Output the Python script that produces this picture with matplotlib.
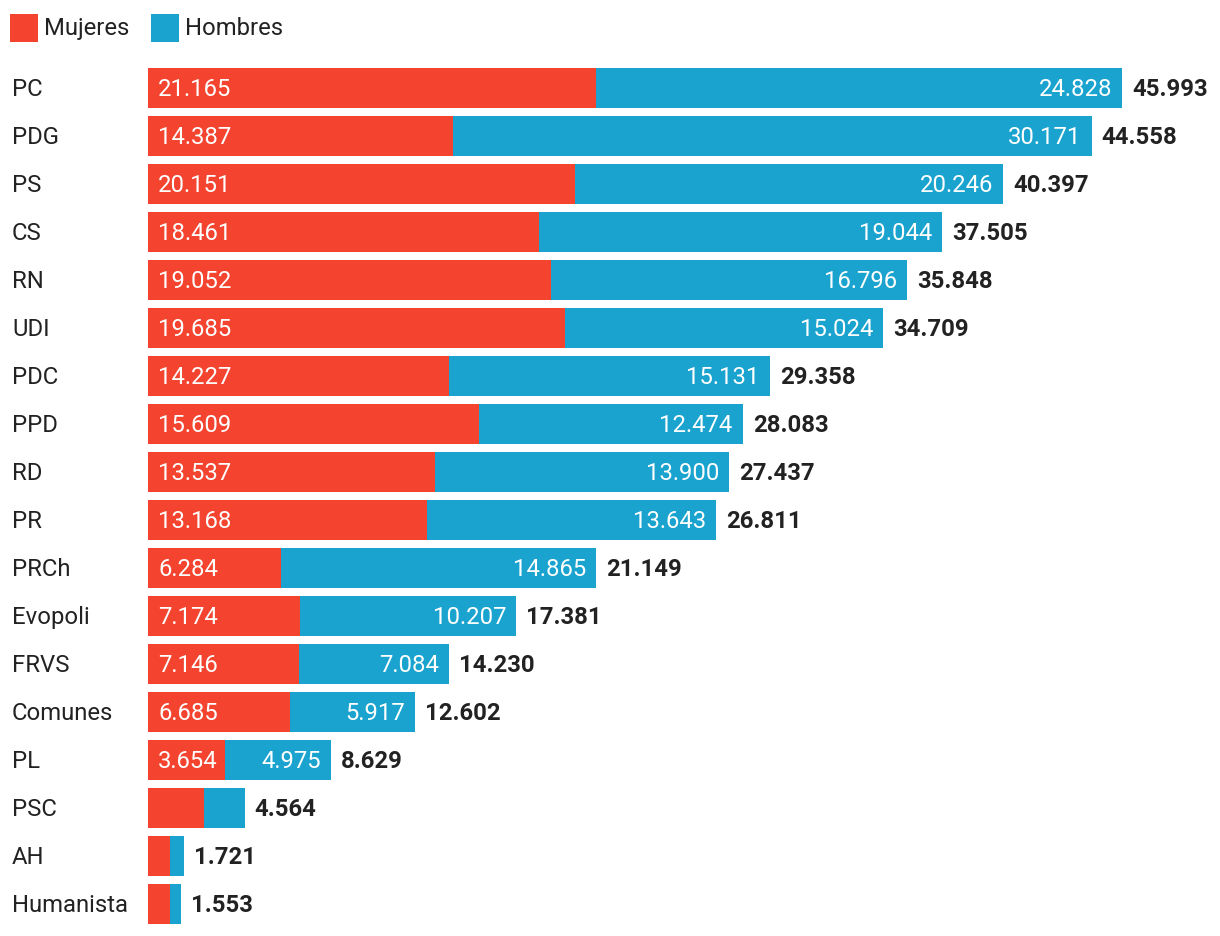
import matplotlib
matplotlib.use("Agg")
import matplotlib.pyplot as plt
from matplotlib.patches import Rectangle
from matplotlib.transforms import offset_copy

plt.rcParams['font.family'] = ['Roboto', 'DejaVu Sans']

parties = ["PC", "PDG", "PS", "CS", "RN", "UDI", "PDC", "PPD", "RD", "PR", "PRCh",
           "Evopoli", "FRVS", "Comunes", "PL", "PSC", "AH", "Humanista"]
mujeres = [21165, 14387, 20151, 18461, 19052, 19685, 14227, 15609, 13537, 13168, 6284,
           7174, 7146, 6685, 3654, 2640, 1040, 1040]
hombres = [24828, 30171, 20246, 19044, 16796, 15024, 15131, 12474, 13900, 13643, 14865,
           10207, 7084, 5917, 4975, 1924, 681, 513]
totales = [45993, 44558, 40397, 37505, 35848, 34709, 29358, 28083, 27437, 26811, 21149,
           17381, 14230, 12602, 8629, 4564, 1721, 1553]
show_inner = [True] * 15 + [False] * 3

RED = "#F4432E"
BLUE = "#19A3CE"

W, H = 1220, 936
fig = plt.figure(figsize=(W / 100, H / 100), dpi=100)
left_px, right_px, top_px, bot_px = 148, 1220, 64, 928
ax = fig.add_axes([left_px / W, 1 - bot_px / H, (right_px - left_px) / W, (bot_px - top_px) / H])
scale = 974 / 45993  # px per unit
ax.set_xlim(0, (right_px - left_px) / scale)
n = len(parties)
ax.set_ylim(n - 0.5, -0.5)
ax.axis("off")

def fmt(v):
    return f"{v:,}".replace(",", ".")

ys = list(range(n))
ax.barh(ys, mujeres, height=40 / 48, color=RED, linewidth=0)
ax.barh(ys, hombres, left=mujeres, height=40 / 48, color=BLUE, linewidth=0)

fs = 17.2
dy = -1.5 * 0.72  # points
for i, (p, m, h, t) in enumerate(zip(parties, mujeres, hombres, totales)):
    fig.text(12 / W, 1 - (89.5 + 48 * i) / H, p, fontsize=fs, color="#222222",
             ha="left", va="center")
    if show_inner[i]:
        ax.text(0, i, fmt(m), fontsize=fs, color="white", ha="left", va="center",
                transform=offset_copy(ax.transData, fig=fig, x=10 * 0.72, y=dy, units="points"))
        ax.text(m + h, i, fmt(h), fontsize=fs, color="white", ha="right", va="center",
                transform=offset_copy(ax.transData, fig=fig, x=-10 * 0.72, y=dy, units="points"))
    ax.text(m + h, i, fmt(t), fontsize=fs, color="#222222", fontweight="bold",
            ha="left", va="center",
            transform=offset_copy(ax.transData, fig=fig, x=10 * 0.72, y=dy, units="points"))

# legend
for x0, col, lab in [(10, RED, "Mujeres"), (151, BLUE, "Hombres")]:
    fig.patches.append(Rectangle((x0 / W, 1 - 42 / H), 28 / W, 28 / H,
                                 transform=fig.transFigure, color=col, linewidth=0))
    fig.text((x0 + 34) / W, 1 - 28.5 / H, lab, fontsize=fs, color="#222222",
             ha="left", va="center")

fig.savefig("out.png", dpi=100)
